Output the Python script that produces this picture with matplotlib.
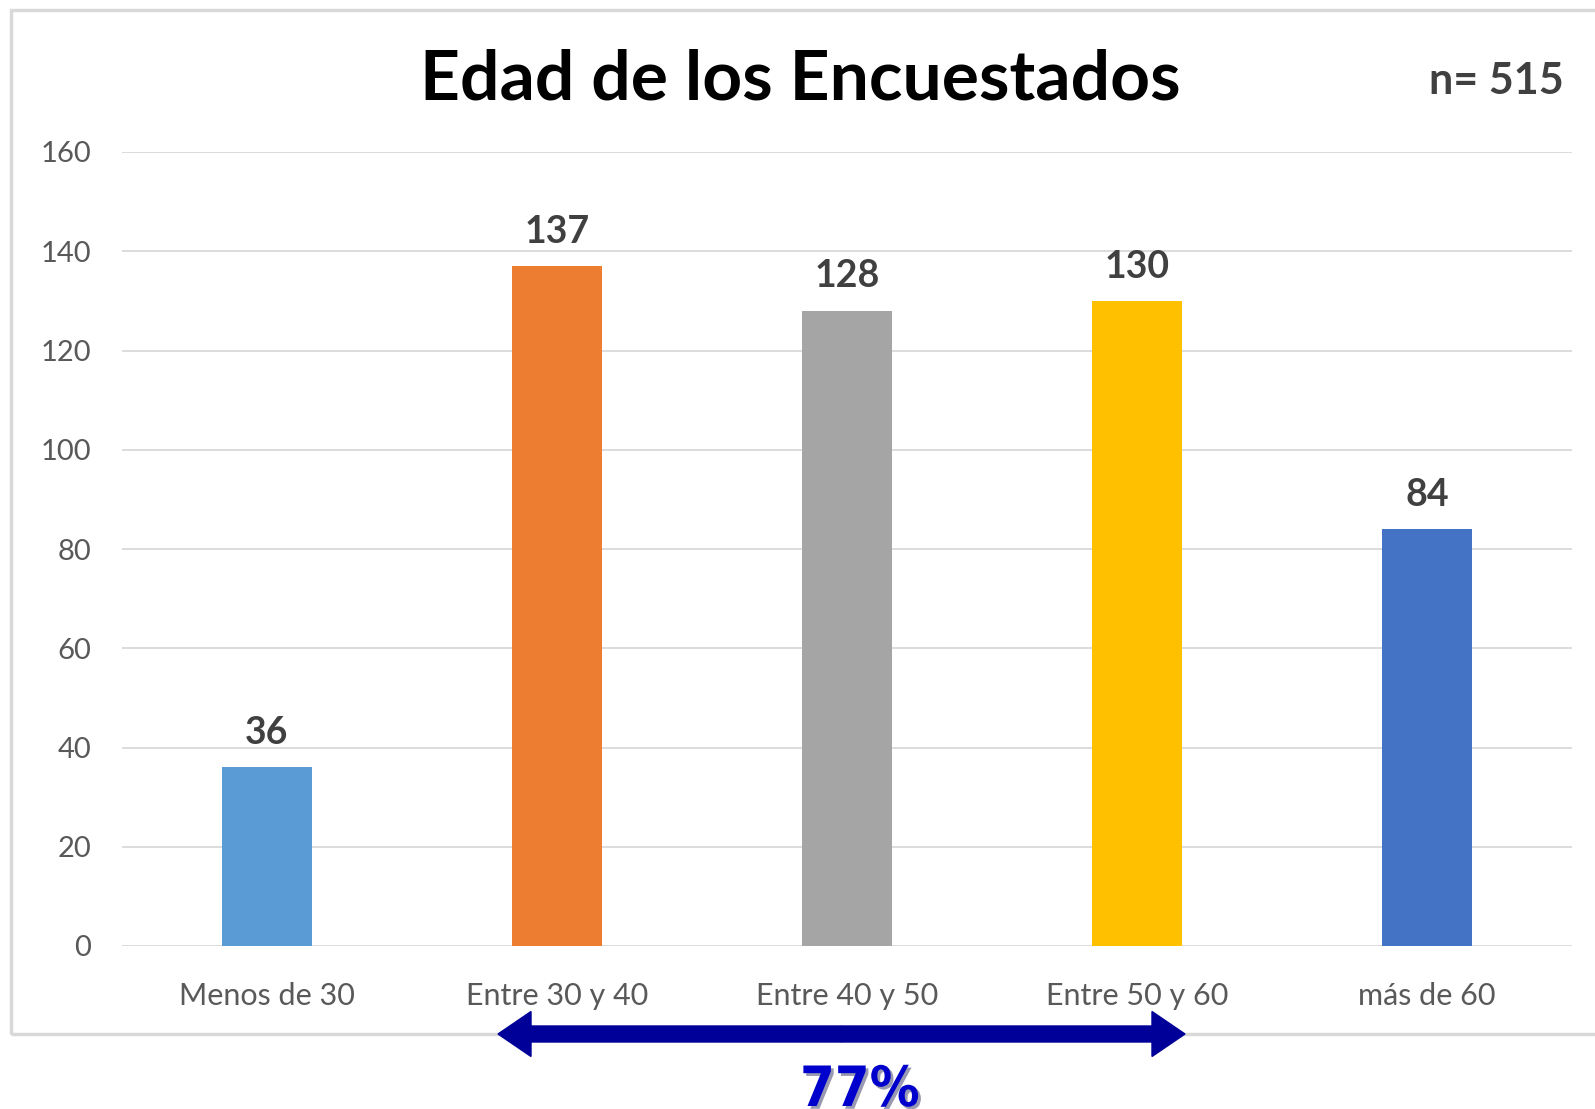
import matplotlib
matplotlib.use("Agg")
import matplotlib.pyplot as plt
from matplotlib.patches import Rectangle, FancyArrow
import matplotlib.patheffects as pe

categories = ["Menos de 30", "Entre 30 y 40", "Entre 40 y 50", "Entre 50 y 60", "más de 60"]
values = [36, 137, 128, 130, 84]
colors = ["#5B9BD5", "#ED7D31", "#A5A5A5", "#FFC000", "#4472C4"]
yticks = [0, 20, 40, 60, 80, 100, 120, 140, 160]
title = "Edad de los Encuestados"
n_label = "n= 515"
span_label = "77%"

W, H = 1595, 1109
fig = plt.figure(figsize=(W / 100, H / 100), dpi=100)
fig.patch.set_facecolor("white")

# chart frame
fig.patches.append(Rectangle((11 / W, (H - 1034) / H), 1.2, (1034 - 10) / H,
                             transform=fig.transFigure, fill=False,
                             edgecolor="#D9D9D9", linewidth=2.5, zorder=0))

ax = fig.add_axes([122 / W, (H - 946) / H, (1572 - 122) / W, (946 - 152) / H])
x = list(range(len(categories)))
ax.bar(x, values, width=0.31, color=colors, zorder=3)
ax.set_xlim(-0.5, len(categories) - 0.5)
ax.set_ylim(0, 160)
ax.set_yticks(yticks)
ax.set_xticks(x)
ax.set_xticklabels(categories, fontsize=22, color="#595959", family="Lato")
ax.set_yticklabels([str(t) for t in yticks], fontsize=21, color="#595959", family="Lato")
ax.tick_params(length=0)
ax.tick_params(axis="x", pad=26)
ax.tick_params(axis="y", pad=22)
ax.grid(axis="y", color="#D9D9D9", linewidth=1.3, zorder=0)
for s in ax.spines.values():
    s.set_visible(False)

for xi, v in zip(x, values):
    ax.text(xi, v + 3.5, str(v), ha="center", va="bottom", fontsize=27,
            fontweight="bold", color="#404040", family="Lato")

fig.text(800 / W, (H - 80) / H, title, ha="center", va="center",
         fontsize=50, fontweight="bold", color="black", family="Lato")
fig.text(1564 / W, (H - 81) / H, n_label, ha="right", va="center",
         fontsize=31, fontweight="bold", color="#404040", family="Lato")

# double-headed arrow (in inches)
yc = (H - 1034) / 100
left, right = 4.98, 11.85
mid = (left + right) / 2
for start, d in [(mid, right - mid), (mid, left - mid)]:
    fig.patches.append(FancyArrow(start, yc, d, 0, width=0.16, head_width=0.45,
                                  head_length=0.33, length_includes_head=True,
                                  color="#000099", transform=fig.dpi_scale_trans,
                                  zorder=5))

fig.text(860 / W, (H - 1064) / H, span_label, ha="center", va="top",
         fontsize=40, fontweight="bold", color="#0000CC",
         family="DejaVu Sans", fontstretch="condensed",
         path_effects=[pe.SimplePatchShadow(offset=(2, -2), alpha=0.4), pe.Normal()])

fig.savefig("out.png", dpi=100, facecolor="white")
